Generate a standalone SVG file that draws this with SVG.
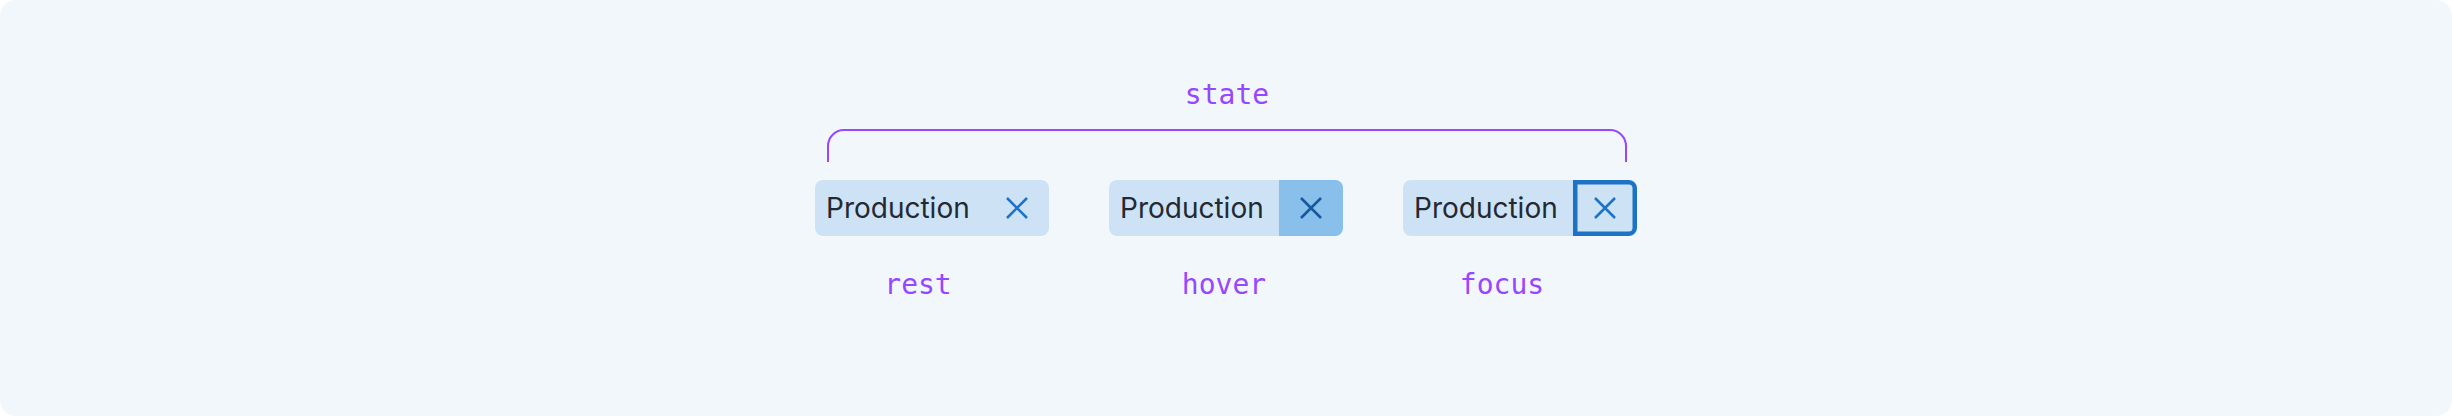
<svg xmlns="http://www.w3.org/2000/svg" width="2452" height="416" viewBox="0 0 2452 416">
<style>
.bg{fill:#F2F7FC}
.chip{fill:#CDE3F5}
.lbl{font-family:Inter,"Noto Sans",sans-serif;font-size:28px;fill:#232934}
.mono{font-family:"DejaVu Sans Mono","Liberation Mono",monospace;font-size:28px;fill:#9747FF;text-anchor:middle}
.x{stroke:#1B74C9;stroke-width:2.6;fill:none;stroke-linecap:butt}
.xh{stroke:#155A9C}
.brk{stroke:#9747FF;stroke-width:2;fill:none}
</style>
<rect class="bg" x="0" y="0" width="2452" height="416" rx="16"/>
<g id="connectors">
<path class="brk" d="M828 162 V146 A16 16 0 0 1 844 130 H1610 A16 16 0 0 1 1626 146 V162"/>
</g>
<g id="state-label"><text class="mono" x="1227" y="104">state</text></g>
<g id="chip-rest">
<rect class="chip" x="815" y="180" width="234" height="56" rx="8"/>
<text class="lbl" x="826" y="218">Production</text>
<path class="x" d="M1007 198 L1027 218 M1027 198 L1007 218"/>
</g>
<g id="chip-hover">
<rect class="chip" x="1109" y="180" width="234" height="56" rx="8"/>
<path fill="#89BFEB" d="M1279 180 H1335 A8 8 0 0 1 1343 188 V228 A8 8 0 0 1 1335 236 H1279 Z"/>
<text class="lbl" x="1120" y="218">Production</text>
<path class="x xh" d="M1301 198 L1321 218 M1321 198 L1301 218"/>
</g>
<g id="chip-focus">
<rect class="chip" x="1403" y="180" width="234" height="56" rx="8"/>
<text class="lbl" x="1414" y="218">Production</text>
<path fill="none" stroke="#1D72C6" stroke-width="4.5" d="M1575.25 182.25 H1629 A6 6 0 0 1 1634.75 188 V228 A6 6 0 0 1 1629 233.75 H1575.25 Z"/>
<path class="x" d="M1595 198 L1615 218 M1615 198 L1595 218"/>
</g>
<g id="label-rest"><text class="mono" x="918" y="294">rest</text></g>
<g id="label-hover"><text class="mono" x="1224" y="294">hover</text></g>
<g id="label-focus"><text class="mono" x="1502" y="294">focus</text></g>
</svg>
